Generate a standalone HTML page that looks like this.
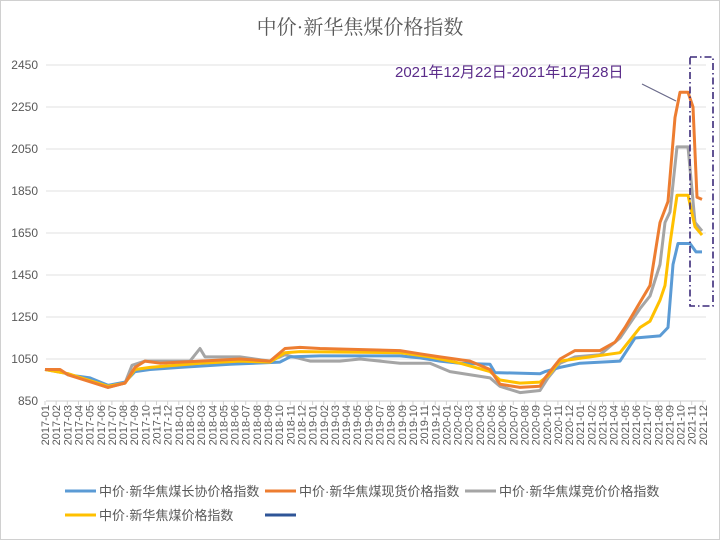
<!DOCTYPE html>
<html><head><meta charset="utf-8"><style>
html,body{margin:0;padding:0;background:#fff}
svg{display:block}
</style></head><body>
<svg id="s" width="720" height="540" xmlns="http://www.w3.org/2000/svg" font-family="'Liberation Sans','Noto Sans CJK SC',sans-serif">
<rect x="0.5" y="0.5" width="719" height="539" fill="#fff" stroke="#d0d0d0"/>
<text x="360" y="34" text-anchor="middle" font-size="20" fill="#595959" font-family="'Liberation Serif','Noto Serif CJK SC',serif">中价·新华焦煤价格指数</text>
<g id="grid"></g>
<g id="xl" font-size="11" fill="#595959"></g>
<g id="lines" fill="none" stroke-width="3" stroke-linejoin="round"></g>
<text x="395" y="77" font-size="15" fill="#5b2c8a">2021年12月22日-2021年12月28日</text>
<line x1="642" y1="84" x2="676" y2="101" stroke="#6a6a8a" stroke-width="1.2"/>
<rect x="690" y="57" width="23" height="249" fill="none" stroke="#3b2a7a" stroke-width="1.6" stroke-dasharray="7,3,1.5,3"/>
<g font-size="13" fill="#595959">
<line x1="65" y1="491" x2="96" y2="491" stroke="#5b9bd5" stroke-width="3"/>
<text x="99" y="496">中价·新华焦煤长协价格指数</text>
<line x1="265" y1="491" x2="296" y2="491" stroke="#ed7d31" stroke-width="3"/>
<text x="299" y="496">中价·新华焦煤现货价格指数</text>
<line x1="465" y1="491" x2="496" y2="491" stroke="#a5a5a5" stroke-width="3"/>
<text x="499" y="496">中价·新华焦煤竞价价格指数</text>
<line x1="65" y1="515" x2="96" y2="515" stroke="#ffc000" stroke-width="3"/>
<text x="99" y="520">中价·新华焦煤价格指数</text>
<line x1="265" y1="515" x2="296" y2="515" stroke="#2f5597" stroke-width="3"/>
</g>
</svg>
<script>
const ns="http://www.w3.org/2000/svg";
function Y(v){return 401-(v-850)*0.21;}
const g=document.getElementById('grid');
for(let v=850;v<=2450;v+=200){
 const l=document.createElementNS(ns,'line');
 l.setAttribute('x1',46);l.setAttribute('x2',706);l.setAttribute('y1',Y(v));l.setAttribute('y2',Y(v));
 l.setAttribute('stroke',v==850?'#cfcfcf':'#e0e0e0');l.setAttribute('stroke-width',1);g.appendChild(l);
 const t=document.createElementNS(ns,'text');t.setAttribute('x',38);t.setAttribute('y',Y(v)+4);
 t.setAttribute('text-anchor','end');t.setAttribute('font-size',12);t.setAttribute('fill','#595959');t.textContent=v;g.appendChild(t);
}
const xl=document.getElementById('xl');
for(let i=0;i<60;i++){
 const y=2017+Math.floor(i/12),m=i%12+1;
 const x=45+i*11.15;
 const t=document.createElementNS(ns,'text');
 t.setAttribute('transform',`translate(${x+4},405) rotate(-90)`);
 t.setAttribute('text-anchor','end');t.textContent=y+'-'+(m<10?'0'+m:m);xl.appendChild(t);
 const tk=document.createElementNS(ns,'line');tk.setAttribute('x1',x);tk.setAttribute('x2',x);tk.setAttribute('y1',401);tk.setAttribute('y2',405);tk.setAttribute('stroke','#d0d0d0');g.appendChild(tk);
}
const S={
'#a5a5a5':[[45,1000],[68,980],[108,915],[125,935],[132,1020],[145,1040],[190,1040],[200,1100],[205,1060],[240,1060],[270,1040],[285,1070],[310,1040],[340,1040],[360,1050],[400,1030],[430,1030],[450,990],[490,960],[500,920],[520,890],[540,900],[548,960],[560,1030],[575,1060],[600,1070],[620,1150],[640,1290],[650,1350],[660,1500],[665,1700],[670,1750],[677,2060],[688,2060],[695,1700],[702,1660]],
'#5b9bd5':[[45,1000],[60,995],[68,975],[90,960],[108,925],[125,940],[135,990],[150,1000],[180,1010],[230,1025],[280,1035],[290,1060],[320,1065],[400,1065],[420,1055],[440,1040],[460,1030],[490,1025],[495,985],[540,980],[545,990],[560,1010],[580,1030],[620,1040],[635,1150],[660,1160],[668,1200],[673,1500],[678,1600],[690,1600],[696,1560],[702,1560]],
'#ffc000':[[45,1000],[68,980],[108,920],[125,935],[135,1000],[150,1010],[200,1030],[240,1040],[270,1035],[285,1080],[300,1085],[400,1080],[430,1060],[460,1030],[490,990],[500,950],[520,935],[540,940],[548,970],[560,1040],[575,1050],[620,1080],[640,1200],[650,1230],[660,1330],[665,1400],[670,1600],[677,1830],[688,1830],[695,1680],[702,1640]],
'#ed7d31':[[45,1000],[60,1000],[68,975],[108,915],[125,935],[135,1010],[145,1040],[160,1030],[200,1040],[240,1050],[270,1040],[285,1100],[300,1105],[320,1100],[400,1090],[420,1075],[440,1060],[470,1040],[490,1000],[500,930],[520,915],[540,920],[545,960],[560,1050],[575,1090],[600,1090],[615,1130],[625,1200],[640,1320],[650,1400],[660,1700],[668,1800],[675,2200],[680,2320],[688,2320],[693,2250],[697,1820],[702,1810]]
};
const L=document.getElementById('lines');
for(const c in S){
 const p=document.createElementNS(ns,'polyline');
 p.setAttribute('points',S[c].map(a=>a[0]+','+Y(a[1]).toFixed(1)).join(' '));
 p.setAttribute('stroke',c);L.appendChild(p);
}
</script>
</body></html>
